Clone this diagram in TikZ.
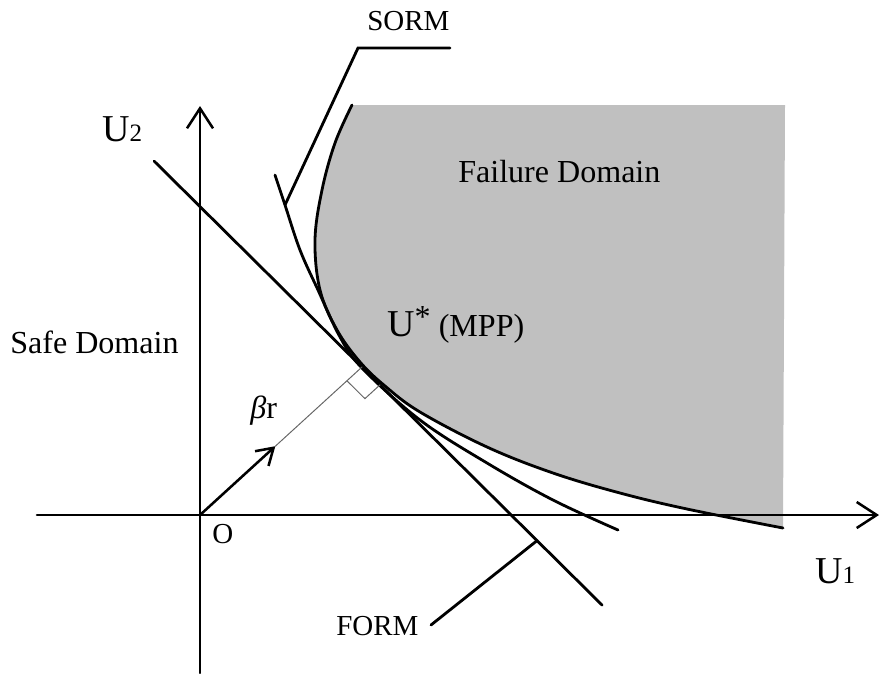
\documentclass[tikz,border=0pt]{standalone}
\usepackage{fontspec}
\setmainfont{Liberation Serif}
\usetikzlibrary{arrows.meta,calc}
\definecolor{failgray}{RGB}{192,192,192}

\begin{document}
\begin{tikzpicture}[x=0.025cm,y=-0.025cm,line cap=round,
  >={Straight Barb[length=5mm,width=6.5mm]},
  curve/.style={line width=2pt},
  axis/.style={line width=1.8pt,->},
  lbl/.style={inner sep=0pt,anchor=base west,font=\fontsize{22.8}{26}\selectfont},
  small/.style={lbl,font=\fontsize{20.6}{24}\selectfont}]
\useasboundingbox (0,0) rectangle (880,673);
% failure domain
\fill[failgray] plot[smooth,tension=0.6] coordinates {(352,105) (335,143) (322,190) (315,240) (320,290) (337,330) (360,362) (385,386) (420,412) (487,447) (553,473) (620,493) (687,509) (783,528)} -- (785,105) -- cycle;
% axes
\coordinate (O) at (200,515);
\draw[axis] (37,515) -- (879,515);
\draw[axis] (200,673) -- (200,106);
% limit state and SORM
\draw[curve] plot[smooth,tension=0.6] coordinates {(352,105) (335,143) (322,190) (315,240) (320,290) (337,330) (360,362) (385,386) (420,412) (487,447) (553,473) (620,493) (687,509) (783,528)};
\draw[curve] plot[smooth,tension=0.6] coordinates {(275,175) (285,205) (300,250) (318,290) (340,337) (362,368) (420,420) (487,463) (553,500) (618,530)};
% FORM
\coordinate (F1) at (154,161);
\coordinate (F2) at (602,605);
\coordinate (P) at (362,367);
\draw[curve] (F1) -- (F2);
% beta
\coordinate (B) at ($(O)!0.465!(P)$);
\draw[axis,>={Straight Barb[length=4mm,width=5mm]}] (O) -- (B);
\draw[black!60,line width=0.7pt] (B) -- (P);
\coordinate (ra) at ($(P)!0.093!(O)$);
\coordinate (rb) at ($(P)!0.075!(F2)$);
\draw[black!60,line width=0.7pt] (ra) -- ($(ra)+(rb)-(P)$) -- (rb);
% leaders
\coordinate (s1) at (450,48);
\coordinate (s2) at (358,48);
\coordinate (s3) at (285,205);
\draw[curve] (s1) -- (s2) -- (s3);
\coordinate (f1) at ($(F1)!0.855!(F2)$);
\coordinate (f2) at (431,625);
\draw[curve] (f1) -- (f2);
% labels
\node[lbl] (safe) at (10,353) {Safe Domain};
\node[lbl] (fail) at (458,182) {Failure Domain};
\node[small] (sorm) at (367,30) {SORM};
\node[small] (form) at (336,635) {FORM};
\node[small] (orig) at (212,543) {O};
\node[lbl] (mpp) at (387,336) {{\fontsize{27}{30}\selectfont U}\raisebox{6pt}{*} (MPP)};
\node[lbl] (beta) at (250,418) {\textit{β}r};
\node[lbl] (utwo) at (102,141) {{\fontsize{27}{30}\selectfont U}{\fontsize{17.8}{20}\selectfont 2}};
\node[lbl] (uone) at (815,583) {{\fontsize{27}{30}\selectfont U}{\fontsize{17.8}{20}\selectfont 1}};
\end{tikzpicture}
\end{document}
